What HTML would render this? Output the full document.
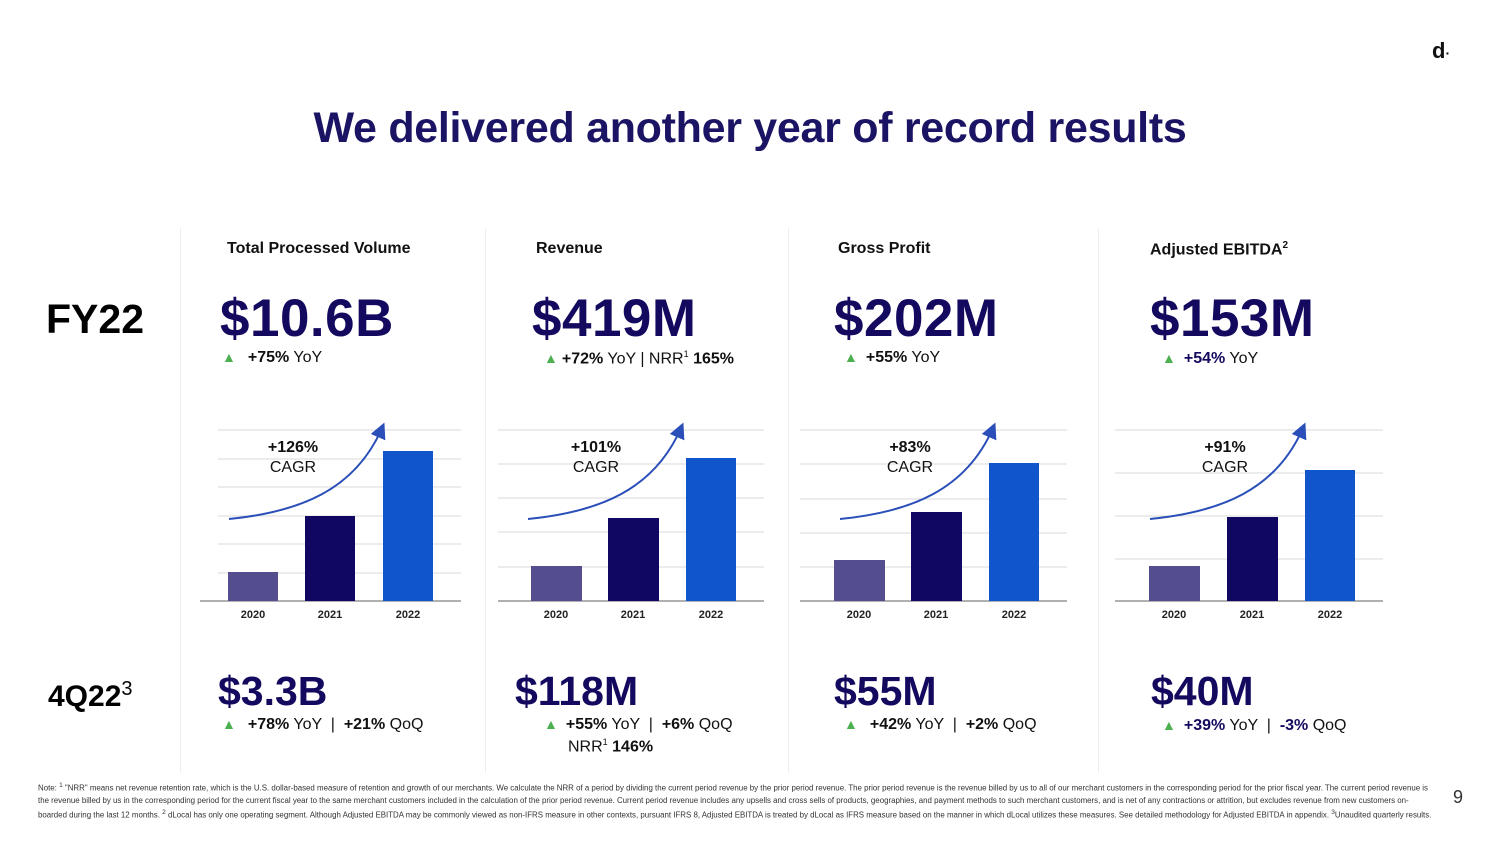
<!DOCTYPE html>
<html><head><meta charset="utf-8"><style>
body{margin:0;width:1500px;height:844px;background:#fff;position:relative;overflow:hidden;font-family:"Liberation Sans",sans-serif;}
.a{position:absolute;white-space:nowrap;}
.t{font-size:43px;font-weight:bold;color:#1b1464;left:0;width:1500px;text-align:center;top:104px;letter-spacing:-0.3px}
.h{font-size:16px;font-weight:bold;color:#111;top:240px;}
.big{font-size:53px;font-weight:bold;color:#13095e;top:288px;letter-spacing:0.5px}
.mid{font-size:41px;font-weight:bold;color:#13095e;top:668px;}
.s{font-size:16px;color:#111;}
.s b{font-weight:bold}
.tri{color:#4caf50;font-size:14px;margin-right:12px}
.sep{position:absolute;width:1px;background:#eee;}
.note{position:absolute;left:38px;top:780px;width:1395px;font-size:7.9px;line-height:12px;color:#333;}
</style></head><body>
<div class="a" style="left:1432px;top:38px;font-size:22px;font-weight:bold;color:#111">d<span style="font-size:14px">·</span></div>
<div class="a t">We delivered another year of record results</div>
<div class="sep" style="left:180px;top:228px;height:545px"></div>
<div class="sep" style="left:485px;top:228px;height:545px"></div>
<div class="sep" style="left:788px;top:228px;height:545px"></div>
<div class="sep" style="left:1098px;top:228px;height:545px"></div>

<div class="a" style="left:46px;top:296px;font-size:41px;font-weight:bold;color:#000">FY22</div>
<div class="a" style="left:48px;top:678px;font-size:30px;font-weight:bold;color:#000">4Q22<sup style="font-weight:normal;font-size:20px">3</sup></div>

<div class="a h" style="left:227px">Total Processed Volume</div>
<div class="a h" style="left:536px">Revenue</div>
<div class="a h" style="left:838px">Gross Profit</div>
<div class="a h" style="left:1150px">Adjusted EBITDA<sup style="font-size:10px">2</sup></div>

<div class="a big" style="left:220px">$10.6B</div>
<div class="a big" style="left:532px">$419M</div>
<div class="a big" style="left:834px">$202M</div>
<div class="a big" style="left:1150px">$153M</div>

<div class="a s" style="left:222px;top:349px"><span class="tri">▲</span><b>+75%</b> YoY</div>
<div class="a s" style="left:544px;top:349px"><span class="tri" style="margin-right:4px">▲</span><b>+72%</b> YoY | NRR<sup style="font-size:9px">1</sup> <b>165%</b></div>
<div class="a s" style="left:844px;top:349px"><span class="tri" style="margin-right:8px">▲</span><b>+55%</b> YoY</div>
<div class="a s" style="left:1162px;top:350px"><span class="tri" style="margin-right:8px">▲</span><b style="color:#13095e">+54%</b> YoY</div>

<div class="a mid" style="left:218px">$3.3B</div>
<div class="a mid" style="left:515px">$118M</div>
<div class="a mid" style="left:834px">$55M</div>
<div class="a mid" style="left:1151px">$40M</div>

<div class="a s" style="left:222px;top:716px"><span class="tri">▲</span><b>+78%</b> YoY &nbsp;| &nbsp;<b>+21%</b> QoQ</div>
<div class="a s" style="left:544px;top:716px"><span class="tri" style="margin-right:8px">▲</span><b>+55%</b> YoY &nbsp;| &nbsp;<b>+6%</b> QoQ</div>
<div class="a s" style="left:568px;top:737px">NRR<sup style="font-size:9px">1</sup> <b>146%</b></div>
<div class="a s" style="left:844px;top:716px"><span class="tri">▲</span><b>+42%</b> YoY &nbsp;| &nbsp;<b>+2%</b> QoQ</div>
<div class="a s" style="left:1162px;top:717px"><span class="tri" style="margin-right:8px">▲</span><b style="color:#13095e">+39%</b> YoY &nbsp;| &nbsp;<b style="color:#13095e">-3%</b> QoQ</div>

<svg class="a" style="left:0;top:0" width="1500" height="844" font-family="Liberation Sans, sans-serif">
<defs><marker id="ar" markerWidth="8" markerHeight="8" refX="5" refY="4" orient="auto"><path d="M0,0 L8,4 L0,8 Z" fill="#2a4fb8"/></marker></defs>
<g stroke="#d9d9d9" stroke-width="1">
<line x1="218" x2="461" y1="430" y2="430"/><line x1="218" x2="461" y1="459" y2="459"/><line x1="218" x2="461" y1="487" y2="487"/><line x1="218" x2="461" y1="516" y2="516"/><line x1="218" x2="461" y1="544" y2="544"/><line x1="218" x2="461" y1="573" y2="573"/>
<line x1="498" x2="764" y1="430" y2="430"/><line x1="498" x2="764" y1="464" y2="464"/><line x1="498" x2="764" y1="498" y2="498"/><line x1="498" x2="764" y1="532" y2="532"/><line x1="498" x2="764" y1="567" y2="567"/>
<line x1="800" x2="1067" y1="430" y2="430"/><line x1="800" x2="1067" y1="464" y2="464"/><line x1="800" x2="1067" y1="499" y2="499"/><line x1="800" x2="1067" y1="533" y2="533"/><line x1="800" x2="1067" y1="567" y2="567"/>
<line x1="1115" x2="1383" y1="430" y2="430"/><line x1="1115" x2="1383" y1="473" y2="473"/><line x1="1115" x2="1383" y1="516" y2="516"/><line x1="1115" x2="1383" y1="559" y2="559"/>
</g>
<g stroke="#b0b0b0" stroke-width="2">
<line x1="200" x2="461" y1="601" y2="601"/><line x1="498" x2="764" y1="601" y2="601"/><line x1="800" x2="1067" y1="601" y2="601"/><line x1="1115" x2="1383" y1="601" y2="601"/>
</g>
<g>
<rect x="228" y="572" width="50" height="29" fill="#544e8e"/><rect x="305" y="516" width="50" height="85" fill="#100762"/><rect x="383" y="451" width="50" height="150" fill="#1155cc"/>
<rect x="531" y="566" width="51" height="35" fill="#544e8e"/><rect x="608" y="518" width="51" height="83" fill="#100762"/><rect x="686" y="458" width="50" height="143" fill="#1155cc"/>
<rect x="834" y="560" width="51" height="41" fill="#544e8e"/><rect x="911" y="512" width="51" height="89" fill="#100762"/><rect x="989" y="463" width="50" height="138" fill="#1155cc"/>
<rect x="1149" y="566" width="51" height="35" fill="#544e8e"/><rect x="1227" y="517" width="51" height="84" fill="#100762"/><rect x="1305" y="470" width="50" height="131" fill="#1155cc"/>
</g>
<g fill="none" stroke="#2a4fb8" stroke-width="2" marker-end="url(#ar)">
<path d="M229,519 C300,512 355,490 382,428"/>
<path d="M528,519 C599,512 654,490 681,428"/>
<path d="M840,519 C911,512 966,490 993,428"/>
<path d="M1150,519 C1221,512 1276,490 1303,428"/>
</g>
<g font-size="16" text-anchor="middle" fill="#111">
<text x="293" y="452" font-weight="bold">+126%</text><text x="293" y="472">CAGR</text>
<text x="596" y="452" font-weight="bold">+101%</text><text x="596" y="472">CAGR</text>
<text x="910" y="452" font-weight="bold">+83%</text><text x="910" y="472">CAGR</text>
<text x="1225" y="452" font-weight="bold">+91%</text><text x="1225" y="472">CAGR</text>
</g>
<g font-size="11" font-weight="bold" text-anchor="middle" fill="#222">
<text x="253" y="618">2020</text><text x="330" y="618">2021</text><text x="408" y="618">2022</text>
<text x="556" y="618">2020</text><text x="633" y="618">2021</text><text x="711" y="618">2022</text>
<text x="859" y="618">2020</text><text x="936" y="618">2021</text><text x="1014" y="618">2022</text>
<text x="1174" y="618">2020</text><text x="1252" y="618">2021</text><text x="1330" y="618">2022</text>
</g>
</svg>

<div class="note">Note: <sup>1</sup> "NRR" means net revenue retention rate, which is the U.S. dollar-based measure of retention and growth of our merchants. We calculate the NRR of a period by dividing the current period revenue by the prior period revenue. The prior period revenue is the revenue billed by us to all of our merchant customers in the corresponding period for the prior fiscal year. The current period revenue is the revenue billed by us in the corresponding period for the current fiscal year to the same merchant customers included in the calculation of the prior period revenue. Current period revenue includes any upsells and cross sells of products, geographies, and payment methods to such merchant customers, and is net of any contractions or attrition, but excludes revenue from new customers on-boarded during the last 12 months. <sup>2</sup> dLocal has only one operating segment. Although Adjusted EBITDA may be commonly viewed as non-IFRS measure in other contexts, pursuant IFRS 8, Adjusted EBITDA is treated by dLocal as IFRS measure based on the manner in which dLocal utilizes these measures. See detailed methodology for Adjusted EBITDA in appendix. <sup>3</sup>Unaudited quarterly results.</div>
<div class="a" style="left:1453px;top:787px;font-size:18px;color:#333">9</div>
</body></html>
